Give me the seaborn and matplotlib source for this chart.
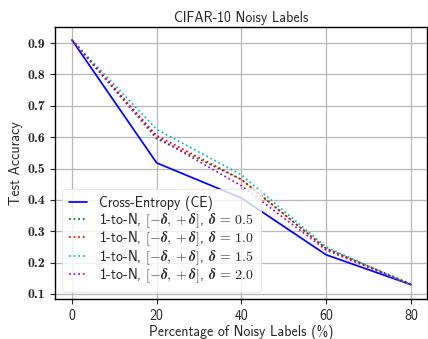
import matplotlib
matplotlib.use("Agg")
import matplotlib.pyplot as plt
import seaborn as sns
import pandas as pd

noise = [0, 20, 40, 60, 80]
ce = [0.91, 0.518, 0.406, 0.225, 0.13]
d05 = [0.91, 0.595, 0.465, 0.245, 0.132]
d10 = [0.91, 0.605, 0.465, 0.245, 0.13]
d15 = [0.91, 0.625, 0.48, 0.25, 0.128]
d20 = [0.91, 0.60, 0.445, 0.24, 0.13]
yticks = [0.1, 0.2, 0.3, 0.4, 0.5, 0.6, 0.7, 0.8, 0.9]
xticks = [0, 20, 40, 60, 80]

def delta_label(v):
    return (r"1-to-N, $\boldsymbol{[-\delta, +\delta]}$, "
            r"$\boldsymbol{\delta}\,\mathbf{=}\,\mathbf{" + v + "}$")

labels = ["Cross-Entropy (CE)", delta_label("0.5"), delta_label("1.0"),
          delta_label("1.5"), delta_label("2.0")]
series = [ce, d05, d10, d15, d20]
colors = ["blue", "green", "red", "c", "m"]
styles = ["-", ":", ":", ":", ":"]

sns.set_style("ticks")
plt.rcParams["mathtext.fontset"] = "cm"
plt.rcParams["font.family"] = ["cmss10", "DejaVu Sans"]
plt.rcParams["axes.unicode_minus"] = False

fig = plt.figure(figsize=(4.28, 3.39), dpi=100)
ax = fig.add_axes([0.1285, 0.118, 0.869, 0.802])

for s, lab, c, ls in zip(series, labels, colors, styles):
    df = pd.DataFrame({"x": noise, "y": s})
    sns.lineplot(data=df, x="x", y="y", ax=ax, color=c, linestyle=ls,
                 linewidth=1.25, label=lab)

ax.grid(True, color="#b8b8b8", linewidth=0.9)
ax.set_axisbelow(True)
for sp in ax.spines.values():
    sp.set_color("black")
    sp.set_linewidth(1.0)

ax.set_xticks(xticks)
ax.set_yticks(yticks)
ax.set_yticklabels(["%.1f" % v for v in yticks])
ax.set_xlim(-4, 83.8)
ax.set_ylim(0.084, 0.951)
for lbl in ax.get_yticklabels():
    lbl.set_fontfamily("cmb10")
ax.tick_params(axis="both", labelsize=10, length=3.5, width=0.8)

ax.set_title("CIFAR-10 Noisy Labels", fontsize=10, pad=4)
ax.set_xlabel("Percentage of Noisy Labels (%)", fontsize=10, labelpad=2)
ax.set_ylabel("Test Accuracy", fontsize=10, labelpad=3)

leg = ax.legend(loc="lower left", fontsize=10, handlelength=1.3,
                handletextpad=0.9, labelspacing=0.0, borderpad=0.5,
                frameon=True, framealpha=0.8, borderaxespad=0.5)
leg.get_frame().set_edgecolor("#e6e6e6")
leg.get_frame().set_linewidth(0.8)

fig.savefig("out.png", dpi=100)
